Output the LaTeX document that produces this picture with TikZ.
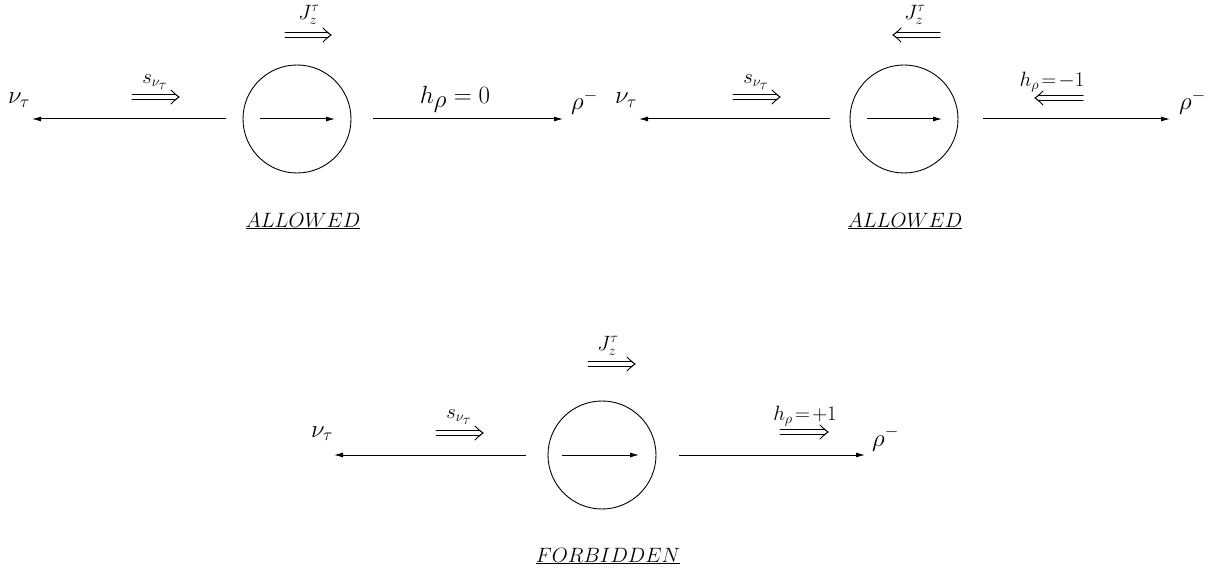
\documentclass[tikz,border=0pt]{standalone}
\usetikzlibrary{arrows.meta,calc}
\newcommand{\spinarr}[2]{% double arrow from #1 to tip #2
  \draw[spinline] ($($(#1)!0pt!(#2)$)+(0,-2.6)$) -- ($($(#2)!3pt!(#1)$)+(0,-2.6)$);
  \draw[spinline] ($($(#1)!0pt!(#2)$)+(0,2.6)$) -- ($($(#2)!3pt!(#1)$)+(0,2.6)$);
  \draw[spinline] ($($(#2)!8pt!(#1)$)+(0,-7)$) .. controls ($($(#2)!3pt!(#1)$)+(0,-2)$) .. (#2)
        .. controls ($($(#2)!3pt!(#1)$)+(0,2)$) .. ($($(#2)!8pt!(#1)$)+(0,7)$);
}
\begin{document}
\begin{tikzpicture}[x=1pt,y=-1pt,
  ball/.style={draw, circle, minimum size=108pt, inner sep=0pt, line width=0.9pt},
  mainline/.style={line width=1pt, -{Latex[length=9pt,width=5pt]}},
  spinline/.style={line width=1pt, line cap=round},
  lab/.style={inner sep=0pt, font=\fontsize{26}{30}\selectfont},
  biglab/.style={inner sep=0pt, font=\fontsize{35}{40}\selectfont},
  small/.style={inner sep=0pt, font=\fontsize{20}{24}\selectfont},
  verdict/.style={inner sep=0pt, font=\fontsize{22}{26}\selectfont},
]
\useasboundingbox (0,0) rectangle (1224,577);

% ---------------- Diagram 1 ----------------
\node[ball] (c1) at (297,119) {};
\coordinate (c1a) at (260,119); \coordinate (c1b) at (335,119);
\draw[mainline] (c1a) -- (c1b);
\coordinate (l1a) at (226,119); \coordinate (l1b) at (32,119);
\draw[mainline] (l1a) -- (l1b);
\coordinate (r1a) at (373,119); \coordinate (r1b) at (563,119);
\draw[mainline] (r1a) -- (r1b);
\node[lab, anchor=base west] (nu1) at (8,104) {$\nu_\tau$};
\node[lab, anchor=base west] (rho1) at (571,110) {$\rho^-$};
\node[biglab, anchor=base] (h1) at (455,104) {$h_\rho = 0$};
\coordinate (s1a) at (132,97); \coordinate (s1b) at (179,97);
\spinarr{s1a}{s1b}
\node[small] (s1) at (155,82) {$s_{\nu_{\scriptstyle\tau}}$};
\coordinate (j1a) at (285,35); \coordinate (j1b) at (331,35);
\spinarr{j1a}{j1b}
\node[small] (j1) at (309,15) {$J_z^\tau$};
\node[verdict] (v1) at (303,221) {$\underline{ALLOWED}$};

% ---------------- Diagram 2 ----------------
\node[ball] (c2) at (904,119) {};
\coordinate (c2a) at (867,119); \coordinate (c2b) at (942,119);
\draw[mainline] (c2a) -- (c2b);
\coordinate (l2a) at (830,119); \coordinate (l2b) at (639,119);
\draw[mainline] (l2a) -- (l2b);
\coordinate (r2a) at (983,119); \coordinate (r2b) at (1170,119);
\draw[mainline] (r2a) -- (r2b);
\node[lab, anchor=base west] (nu2) at (615,104) {$\nu_\tau$};
\node[lab, anchor=base west] (rho2) at (1179,110) {$\rho^-$};
\coordinate (s2a) at (733,97); \coordinate (s2b) at (780,97);
\spinarr{s2a}{s2b}
\node[small] (s2) at (756,82) {$s_{\nu_{\scriptstyle\tau}}$};
\coordinate (j2a) at (940,35); \coordinate (j2b) at (893,35);
\spinarr{j2a}{j2b}
\node[small] (j2) at (915,15) {$J_z^\tau$};
\coordinate (h2a) at (1083,98); \coordinate (h2b) at (1035,98);
\spinarr{h2a}{h2b}
\node[small] (h2) at (1052,82) {$h_\rho\!=\!-1$};
\node[verdict] (v2) at (905,221) {$\underline{ALLOWED}$};

% ---------------- Diagram 3 ----------------
\node[ball] (c3) at (602,455) {};
\coordinate (c3a) at (562,455); \coordinate (c3b) at (639,455);
\draw[mainline] (c3a) -- (c3b);
\coordinate (l3a) at (526,455); \coordinate (l3b) at (334,455);
\draw[mainline] (l3a) -- (l3b);
\coordinate (r3a) at (679,455); \coordinate (r3b) at (865,455);
\draw[mainline] (r3a) -- (r3b);
\node[lab, anchor=base west] (nu3) at (311,437) {$\nu_\tau$};
\node[lab, anchor=base west] (rho3) at (872,446) {$\rho^-$};
\coordinate (s3a) at (436,433); \coordinate (s3b) at (483,433);
\spinarr{s3a}{s3b}
\node[small] (s3) at (459,417) {$s_{\nu_{\scriptstyle\tau}}$};
\coordinate (j3a) at (588,364); \coordinate (j3b) at (635,364);
\spinarr{j3a}{j3b}
\node[small] (j3) at (608,346) {$J_z^\tau$};
\coordinate (h3a) at (780,432); \coordinate (h3b) at (828,432);
\spinarr{h3a}{h3b}
\node[small] (h3) at (805,416) {$h_\rho\!=\!+1$};
\node[verdict] (v3) at (608,556) {$\underline{FORBIDDEN}$};
\end{tikzpicture}
\end{document}
